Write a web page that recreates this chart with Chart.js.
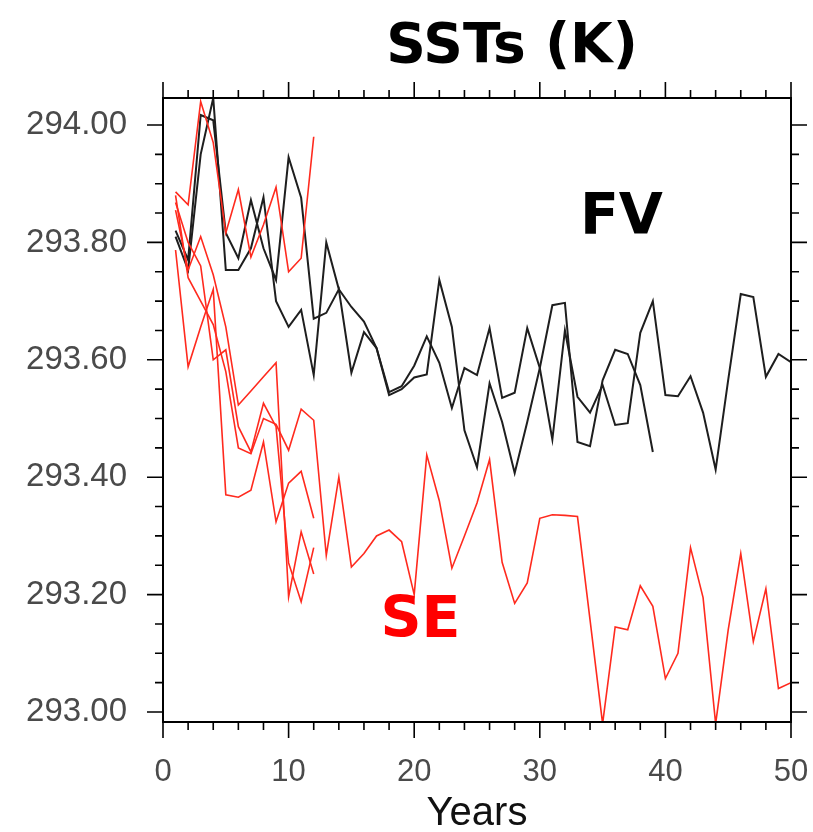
<!DOCTYPE html>
<html>
<head>
<meta charset="utf-8">
<script src="https://cdn.jsdelivr.net/npm/chart.js@4.4.0/dist/chart.umd.min.js"></script>
<style>
  html, body { margin: 0; padding: 0; background: #fff; }
</style>
</head>
<body>
<canvas id="sst" width="813" height="832"></canvas>
<script>
// tick labels
const xTicks = [0, 10, 20, 30, 40, 50];
const yTicks = [293.00, 293.20, 293.40, 293.60, 293.80, 294.00];

// FV runs (black)
const fvLong = [293.81, 293.753, 293.95, 294.046, 293.753, 293.753, 293.79, 293.877, 293.70, 293.656,
  293.685, 293.574, 293.80, 293.72, 293.69, 293.665, 293.62, 293.545, 293.555, 293.59,
  293.64, 293.595, 293.518, 293.586, 293.574, 293.654, 293.535, 293.544, 293.654, 293.586,
  293.464, 293.65, 293.537, 293.51, 293.557, 293.489, 293.492, 293.646, 293.70, 293.54,
  293.538, 293.572, 293.51, 293.413, 293.566, 293.712, 293.707, 293.571, 293.61, 293.596];
const fvShort = [293.82, 293.77, 294.017, 294.008, 293.816, 293.773, 293.872, 293.79, 293.736, 293.945,
  293.876, 293.67, 293.68, 293.72, 293.578, 293.647, 293.62, 293.54, 293.55, 293.57,
  293.575, 293.736, 293.656, 293.48, 293.417, 293.56, 293.494, 293.407, 293.494, 293.586,
  293.693, 293.697, 293.46, 293.453, 293.565, 293.617, 293.61, 293.557, 293.443];

// SE runs (red)
const seLong = [293.88, 293.74, 293.70, 293.66, 293.58, 293.45, 293.44, 293.50, 293.49, 293.446,
  293.516, 293.497, 293.267, 293.40, 293.247, 293.27, 293.30, 293.31, 293.29, 293.20,
  293.438, 293.36, 293.245, 293.30, 293.356, 293.43, 293.255, 293.185, 293.22, 293.33,
  293.336, 293.335, 293.333, 293.157, 292.98, 293.145, 293.14, 293.215, 293.18, 293.057,
  293.10, 293.28, 293.195, 292.98, 293.14, 293.27, 293.12, 293.21, 293.04, 293.05];
const seRun1 = [293.886, 293.864, 294.04, 293.97, 293.816, 293.89, 293.775, 293.83, 293.894, 293.75, 293.773, 293.98];
const seRun2 = [293.868, 293.80, 293.76, 293.60, 293.617, 293.486, 293.443, 293.526, 293.486, 293.254, 293.188, 293.28];
const seRun3 = [293.855, 293.753, 293.81, 293.745, 293.656, 293.523, 293.547, 293.571, 293.595, 293.196, 293.307, 293.235];
const seRun4 = [293.787, 293.588, 293.656, 293.72, 293.37, 293.366, 293.378, 293.46, 293.324, 293.39, 293.41, 293.33];

const BLACK = '#1e1e1e';
const RED = '#ff2a1e';

// year n is index n-1
const toPoints = arr => arr.map((v, i) => ({ x: i + 1, y: v }));

const mkSet = (arr, color, w) => ({
  data: toPoints(arr),
  borderColor: color,
  borderWidth: w,
  pointRadius: 0,
  tension: 0,
  fill: false
});

// frame, outward ticks, title and run labels
const decorations = {
  id: 'decorations',
  afterDatasetsDraw(chart) {
    const { ctx, chartArea: a, scales: { x, y } } = chart;
    ctx.save();
    ctx.strokeStyle = '#000';
    ctx.lineWidth = 2;
    ctx.strokeRect(a.left, a.top, a.right - a.left, a.bottom - a.top);

    ctx.lineWidth = 1.6;
    ctx.beginPath();
    for (let v = 0; v <= 50; v += 2) {
      const px = x.getPixelForValue(v);
      const len = v % 10 === 0 ? 16 : 8;
      ctx.moveTo(px, a.bottom); ctx.lineTo(px, a.bottom + len);
      ctx.moveTo(px, a.top); ctx.lineTo(px, a.top - len);
    }
    for (let k = 0; k <= 20; k++) {
      const v = 293 + k * 0.05;
      const py = y.getPixelForValue(v);
      const len = k % 4 === 0 ? 16 : 8;
      ctx.moveTo(a.left, py); ctx.lineTo(a.left - len, py);
      ctx.moveTo(a.right, py); ctx.lineTo(a.right + len, py);
    }
    ctx.stroke();

    ctx.textAlign = 'center';
    ctx.textBaseline = 'alphabetic';
    ctx.fillStyle = '#000';
    ctx.font = 'bold 55px "DejaVu Sans"';
    ctx.fillText('SSTs (K)', 512, 62);

    ctx.textBaseline = 'middle';
    ctx.font = 'bold 57px "DejaVu Sans"';
    ctx.fillStyle = '#000';
    ctx.fillText('FV', x.getPixelForValue(36.5), y.getPixelForValue(293.84));
    ctx.fillStyle = '#ff0000';
    ctx.fillText('SE', x.getPixelForValue(20.5), y.getPixelForValue(293.153));
    ctx.restore();
  }
};

new Chart(document.getElementById('sst'), {
  type: 'line',
  data: {
    datasets: [
      mkSet(seLong, RED, 1.6),
      mkSet(seRun1, RED, 1.6),
      mkSet(seRun2, RED, 1.6),
      mkSet(seRun3, RED, 1.6),
      mkSet(seRun4, RED, 1.6),
      mkSet(fvLong, BLACK, 2),
      mkSet(fvShort, BLACK, 2)
    ]
  },
  options: {
    responsive: false,
    animation: false,
    layout: { padding: { top: 98, right: 22, left: 0, bottom: 0 } },
    plugins: {
      legend: { display: false },
      tooltip: { enabled: false }
    },
    scales: {
      x: {
        type: 'linear',
        min: 0,
        max: 50,
        grid: { display: false, drawTicks: false },
        border: { display: false },
        afterBuildTicks: s => { s.ticks = xTicks.map(v => ({ value: v })); },
        afterFit: s => { s.height = 110; s.paddingLeft = 0; s.paddingRight = 0; },
        ticks: {
          padding: 32,
          maxRotation: 0,
          autoSkip: false,
          color: '#4a4a4a',
          font: { family: 'Liberation Sans', size: 31 }
        },
        title: {
          display: true,
          text: 'Years',
          color: '#111',
          padding: { top: 0, bottom: -6 },
          font: { family: 'Liberation Sans', size: 40 }
        }
      },
      y: {
        type: 'linear',
        min: 292.983,
        max: 294.046,
        grid: { display: false, drawTicks: false },
        border: { display: false },
        afterBuildTicks: s => { s.ticks = yTicks.map(v => ({ value: v })); },
        afterFit: s => { s.width = 163; s.paddingTop = 0; s.paddingBottom = 0; },
        ticks: {
          padding: 36,
          color: '#4a4a4a',
          font: { family: 'Liberation Sans', size: 33 },
          callback: v => v.toFixed(2)
        }
      }
    }
  },
  plugins: [decorations]
});
</script>
</body>
</html>
